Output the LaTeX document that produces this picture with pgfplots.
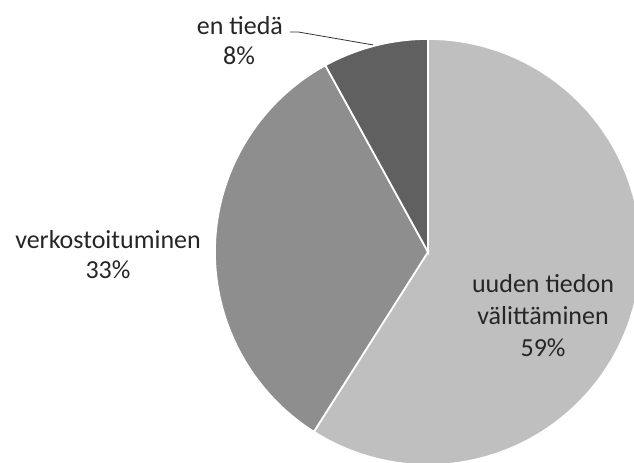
\documentclass[border=0pt]{standalone}
\usepackage{fontspec}
\setmainfont{Carlito}
\usepackage{pgfplots}
\pgfplotsset{compat=1.18}
\definecolor{gA}{HTML}{BFBFBF}
\definecolor{gB}{HTML}{8E8E8E}
\definecolor{gC}{HTML}{606060}
\definecolor{txt}{HTML}{262626}
% data (percent)
\def\va{59}% uuden tiedon välittäminen
\def\vb{33}% verkostoituminen
\def\vc{8}%  en tiedä
\pgfmathsetmacro\aA{90-3.6*\va}
\pgfmathsetmacro\aB{\aA-3.6*\vb}
\pgfmathsetmacro\aC{\aB-3.6*\vc}
\begin{document}
\begin{tikzpicture}
\begin{axis}[
  hide axis, scale only axis,
  width=475.5pt, height=347.25pt,
  xmin=-2.009, xmax=0.967, ymin=-0.991, ymax=1.183,
  clip=true,
]
\addplot[fill=gA, draw=white, line width=1.3pt, domain=\aA:90, samples=150] ({cos(x)},{sin(x)}) -- (0,0) -- cycle;
\addplot[fill=gB, draw=white, line width=1.3pt, domain=\aB:\aA, samples=100] ({cos(x)},{sin(x)}) -- (0,0) -- cycle;
\addplot[fill=gC, draw=white, line width=1.3pt, domain=\aC:\aB, samples=40] ({cos(x)},{sin(x)}) -- (0,0) -- cycle;
\draw[black!80, line width=0.6pt] (-0.648,1.033) -- (-0.610,1.033) -- (-0.258,0.972);
\begin{scope}[every node/.style={anchor=base, inner sep=0pt, text=txt, font=\fontsize{19.5}{24}\selectfont}]
\node at (-0.883,1.019) {en tiedä};
\node at (-0.887,0.878) {8\%};
\node at (-1.502,0.014) {verkostoituminen};
\node at (-1.502,-0.127) {33\%};
\node at (0.540,-0.192) {uuden tiedon};
\node at (0.540,-0.343) {välittäminen};
\node at (0.540,-0.493) {59\%};
\end{scope}
\end{axis}
\pgfresetboundingbox
\path (current axis.south west) rectangle (current axis.north east);
\end{tikzpicture}
\end{document}
